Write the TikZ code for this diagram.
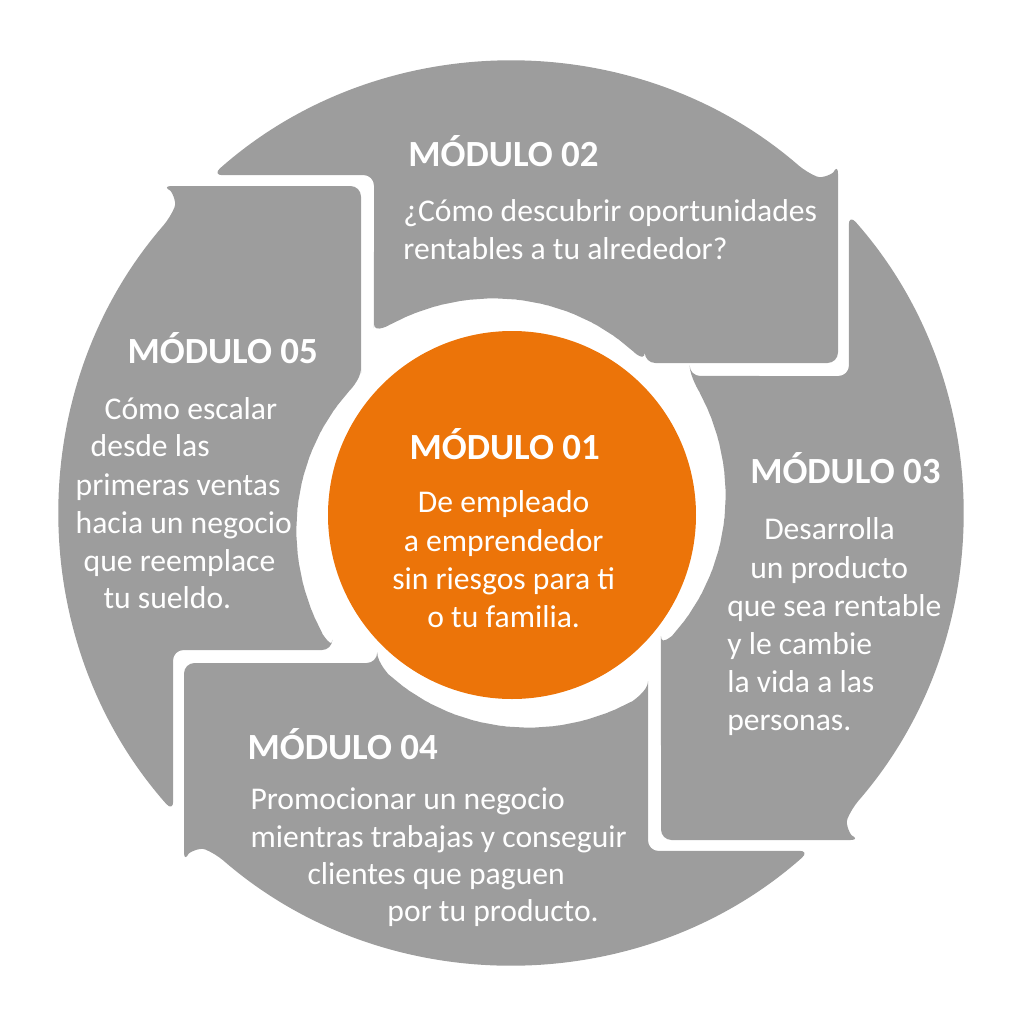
\documentclass[tikz,border=0pt]{standalone}
\usepackage{fontspec}
\setmainfont{Carlito}
\definecolor{segGray}{RGB}{157,157,157}
\definecolor{modOrange}{RGB}{236,116,9}
\tikzset{
  segment/.style={fill=segGray, rounded corners=3pt},
  title/.style={text=white, font=\fontsize{10.5}{12}\selectfont\bfseries, inner sep=0pt},
  body/.style={text=white, font=\fontsize{9}{10.8}\selectfont, inner sep=0pt},
}
% one arrow segment of the ring, drawn for the top position
\newcommand{\segshape}{(-1.37,2.60) -- (-1.37,3.38) -- (131.5:4.51)
  arc[start angle=131.5, end angle=49, radius=4.51]
  .. controls (3.12,3.34) and (3.22,3.40) .. (3.27,3.50) -- (3.27,1.50)
  -- plot[smooth, domain=48.27:127.5, samples=12, variable=\t] (\t:{2.01+0.00305*(\t-48.27)})
  -- cycle}
\begin{document}
\begin{tikzpicture}
  \useasboundingbox (0,0) rectangle (10.23,-10.24);
  \begin{scope}[shift={(5.11,-5.13)}]
    \foreach \ang in {0,-90,-180,-270}
      \fill[segment, rotate=\ang] \segshape;
  \end{scope}
  \node[circle, fill=modOrange, minimum size=3.68cm, inner sep=0pt] (m01) at (5.12,-5.15) {};

  \begin{scope}[x=0.01cm, y=-0.01cm]
    % module 01
    \node[title, anchor=base] (t01) at (505,460) {MÓDULO 01};
    \foreach \ty/\txt [count=\i] in {513/De empleado, 552/a emprendedor, 590/sin riesgos para ti, 628/o tu familia.}
      \node[body, anchor=base] (b01-\i) at (504,\ty) {\txt};
    % module 02
    \node[title, anchor=base west] (t02) at (408,167) {MÓDULO 02};
    \foreach \tx/\ty/\txt [count=\i] in {403/222/¿Cómo descubrir oportunidades, 403/260/rentables a tu alrededor?}
      \node[body, anchor=base west] (b02-\i) at (\tx,\ty) {\txt};
    % module 03
    \node[title, anchor=base west] (t03) at (750,484) {MÓDULO 03};
    \foreach \tx/\ty/\txt [count=\i] in {764/540/Desarrolla, 750/579/un producto, 727/617/que sea rentable,
        727/655/y le cambie, 727/693/la vida a las, 727/731/personas.}
      \node[body, anchor=base west] (b03-\i) at (\tx,\ty) {\txt};
    % module 04
    \node[title, anchor=base west] (t04) at (247,760) {MÓDULO 04};
    \foreach \tx/\ty/\txt [count=\i] in {250/810/Promocionar un negocio, 250/848/mientras trabajas y conseguir,
        307/885/clientes que paguen, 387/922/por tu producto.}
      \node[body, anchor=base west] (b04-\i) at (\tx,\ty) {\txt};
    % module 05
    \node[title, anchor=base west] (t05) at (127,364) {MÓDULO 05};
    \foreach \tx/\ty/\txt [count=\i] in {104/420/Cómo escalar, 90/457/desde las, 75/496/primeras ventas,
        75/534/hacia un negocio, 83/572/que reemplace, 103/609/tu sueldo.}
      \node[body, anchor=base west] (b05-\i) at (\tx,\ty) {\txt};
  \end{scope}
\end{tikzpicture}
\end{document}
